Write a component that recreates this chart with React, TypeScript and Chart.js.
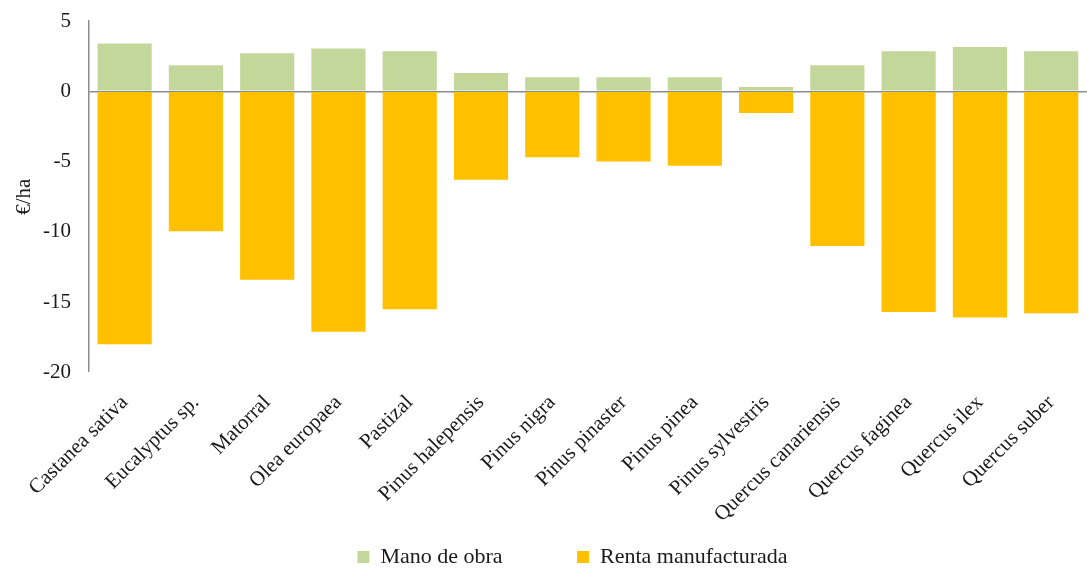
import React, { useEffect, useRef } from "react";
import { Chart, registerables } from "chart.js";

Chart.register(...registerables);

const categories = [
  "Castanea sativa",
  "Eucalyptus sp.",
  "Matorral",
  "Olea europaea",
  "Pastizal",
  "Pinus halepensis",
  "Pinus nigra",
  "Pinus pinaster",
  "Pinus pinea",
  "Pinus sylvestris",
  "Quercus canariensis",
  "Quercus faginea",
  "Quercus ilex",
  "Quercus suber",
];

const manoDeObra = [3.4, 1.85, 2.7, 3.05, 2.85, 1.3, 1.0, 1.0, 1.0, 0.3, 1.85, 2.85, 3.15, 2.85];
const rentaManufacturada = [-18.0, -9.95, -13.4, -17.1, -15.5, -6.3, -4.7, -5.0, -5.3, -1.55, -11.0, -15.7, -16.1, -15.8];

const yTicks = [5, 0, -5, -10, -15, -20];

const FONT = "'Liberation Serif', 'Times New Roman', serif";

export default function App() {
  const ref = useRef<HTMLCanvasElement>(null);

  useEffect(() => {
    if (!ref.current) return;
    const shiftLegend = {
      id: "shiftLegend",
      afterLayout(chart: any) {
        if (chart.legend) {
          chart.legend.left += 58;
        }
      },
    };
    const chart = new Chart(ref.current, {
      type: "bar",
      data: {
        labels: categories,
        datasets: [
          {
            label: "Mano de obra",
            data: manoDeObra,
            backgroundColor: "#C4D79B",
            borderWidth: 0,
          },
          {
            label: "Renta manufacturada",
            data: rentaManufacturada,
            backgroundColor: "#FFC000",
            borderWidth: 0,
          },
        ],
      },
      options: {
        animation: false,
        responsive: false,
        maintainAspectRatio: false,
        layout: { padding: { top: 21, left: 0, right: 0, bottom: -6 } },
        datasets: {
          bar: { categoryPercentage: 1, barPercentage: 0.76 },
        },
        plugins: {
          tooltip: { enabled: false },
          legend: {
            position: "bottom",
            labels: {
              font: { family: FONT, size: 22 },
              color: "#1a1a1a",
              boxWidth: 12,
              boxHeight: 12,
              padding: 4,
              generateLabels(chart: any) {
                const base = Chart.defaults.plugins.legend.labels.generateLabels(chart);
                return base.map((l: any, i: number) => ({
                  ...l,
                  text: i === 0 ? l.text + "\u2003\u2003\u2003\u2009" : l.text,
                }));
              },
            },
          },
        },
        scales: {
          x: {
            stacked: true,
            grid: { display: false, drawTicks: false },
            border: { display: false },
            ticks: {
              maxRotation: 45,
              minRotation: 45,
              autoSkip: false,
              padding: 18,
              color: "#1a1a1a",
              font: { family: FONT, size: 21 },
            },
            afterFit(scale: any) {
              scale.height = 169.6;
            },
          },
          y: {
            stacked: true,
            min: -20,
            max: 5,
            afterBuildTicks(scale: any) {
              scale.ticks = yTicks.map((v) => ({ value: v }));
            },
            grid: {
              drawTicks: false,
              lineWidth: (ctx: any) => (ctx.tick && ctx.tick.value === 0 ? 1.5 : 0),
              color: (ctx: any) => (ctx.tick && ctx.tick.value === 0 ? "#8c8c8c" : "rgba(0,0,0,0)"),
            },
            border: { display: true, color: "#8c8c8c", width: 1.5 },
            ticks: {
              padding: 18,
              color: "#1a1a1a",
              font: { family: FONT, size: 21 },
            },
            title: {
              display: true,
              text: "€/ha",
              color: "#1a1a1a",
              font: { family: FONT, size: 21 },
              padding: { top: 12, bottom: 0 },
            },
            afterFit(scale: any) {
              scale.width = 89;
              scale.paddingTop = 0;
              scale.paddingBottom = 0;
            },
          },
        },
      },
      plugins: [shiftLegend],
    });
    return () => chart.destroy();
  }, []);

  return (
    <div style={{ position: "absolute", left: 0, top: 0, width: 1087, height: 572, background: "#fff" }}>
      <canvas ref={ref} width={1087} height={572} style={{ width: 1087, height: 572 }} />
    </div>
  );
}
